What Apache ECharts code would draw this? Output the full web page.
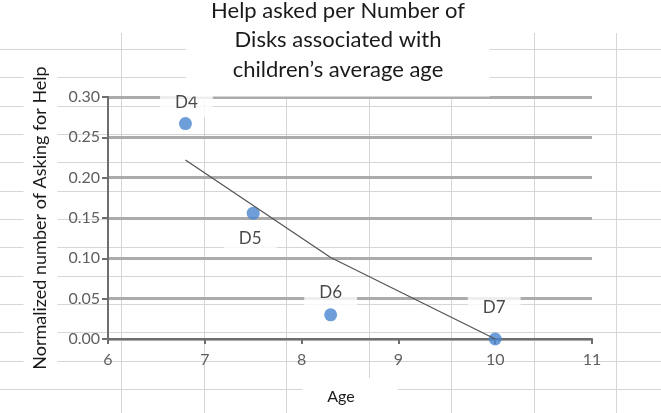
<!DOCTYPE html>
<html>
<head>
<meta charset="utf-8">
<script src="https://cdn.jsdelivr.net/npm/echarts@6/dist/echarts.min.js"></script>
<style>
  html, body { margin: 0; padding: 0; background: #fff; }
  #wrap { position: relative; width: 661px; height: 413px; overflow: hidden; background: #fff; }
  #sheetH { position: absolute; left: 0; top: 49px; width: 661px; height: 364px;
    background-image: repeating-linear-gradient(to bottom, #d6d6d6 0px, #d6d6d6 1px, transparent 1px, transparent 28.33px); }
  #sheetV { position: absolute; left: 121px; top: 33px; width: 540px; height: 380px;
    background-image: repeating-linear-gradient(to right, #d6d6d6 0px, #d6d6d6 1px, transparent 1px, transparent 82.5px); }
  #chart { position: absolute; left: 0; top: 0; width: 661px; height: 413px; }
</style>
</head>
<body>
<div id="wrap">
  <div id="sheetH"></div>
  <div id="sheetV"></div>
  <div id="chart"></div>
</div>
<script>
// ---- data ----
const pointNames = ['D4', 'D5', 'D6', 'D7'];
const ages = [6.8, 7.5, 8.3, 10];
const helpRate = [0.267, 0.156, 0.030, 0.000];
const trendAges = [6.8, 8.3, 10];
const trendValues = [0.222, 0.101, 0.000];

// ---- styles ----
const labelOffsets = [[1, -21], [-3, 25], [0, -22], [-1, -31]];
const FONT = 'Lato';
const axisColor = '#6e6e6e';

const chart = echarts.init(document.getElementById('chart'), null, { renderer: 'canvas' });

const option = {
  animation: false,
  backgroundColor: 'transparent',
  title: {
    text: 'Help asked per Number of\nDisks associated with\nchildren\u2019s average age',
    left: 313,
    top: -4,
    textAlign: 'center',
    padding: [0, 25, 12, 25],
    backgroundColor: '#fff',
    textStyle: { fontFamily: FONT, fontSize: 22, fontWeight: 'normal', color: '#1a1a1a', lineHeight: 29.5, align: 'center' }
  },
  grid: { left: 108, right: 69, top: 97, bottom: 74, containLabel: false, outerBoundsMode: 'none' },
  xAxis: {
    type: 'value', min: 6, max: 11, interval: 1,
    name: 'Age', nameLocation: 'middle', nameGap: 39,
    nameTextStyle: { fontFamily: FONT, fontSize: 16, color: '#1a1a1a', backgroundColor: '#fff', padding: [11, 43, 20, 25] },
    axisLine: { show: true, lineStyle: { color: axisColor, width: 2 } },
    axisTick: { show: true, length: 5, lineStyle: { color: axisColor, width: 2 } },
    axisLabel: { margin: 13, color: '#5f5f5f', fontSize: 16, fontFamily: FONT },
    splitLine: { show: false }
  },
  yAxis: {
    type: 'value', min: 0, max: 0.3, interval: 0.05,
    name: 'Normalized number of Asking for Help', nameLocation: 'middle', nameGap: 47, nameRotate: 90,
    nameTextStyle: { fontFamily: FONT, fontSize: 18, color: '#1a1a1a', backgroundColor: '#fff', padding: [8, 12, 8, 12] },
    axisLine: { show: true, lineStyle: { color: axisColor, width: 2 } },
    axisTick: { show: true, length: 6, lineStyle: { color: axisColor, width: 2 } },
    axisLabel: { margin: 8, color: '#5f5f5f', fontSize: 16, fontFamily: FONT, formatter: v => v.toFixed(2) },
    splitLine: { show: true, lineStyle: { color: '#ababab', width: 3 } }
  },
  series: [
    {
      type: 'scatter',
      z: 3,
      symbolSize: 13,
      itemStyle: { color: '#4a86cf' },
      label: {
        show: true, position: 'inside', formatter: '{b}',
        fontFamily: FONT, fontSize: 17, color: '#1a1a1a',
        backgroundColor: '#fff', padding: [6, 15]
      },
      data: ages.map((a, i) => ({ name: pointNames[i], value: [a, helpRate[i]], label: { offset: labelOffsets[i] } }))
    },
    {
      type: 'line',
      z: 4,
      silent: true,
      showSymbol: false,
      symbol: 'none',
      lineStyle: { color: '#555555', width: 1.3 },
      data: trendAges.map((a, i) => [a, trendValues[i]])
    }
  ]
};
chart.setOption(option);
</script>
</body>
</html>
